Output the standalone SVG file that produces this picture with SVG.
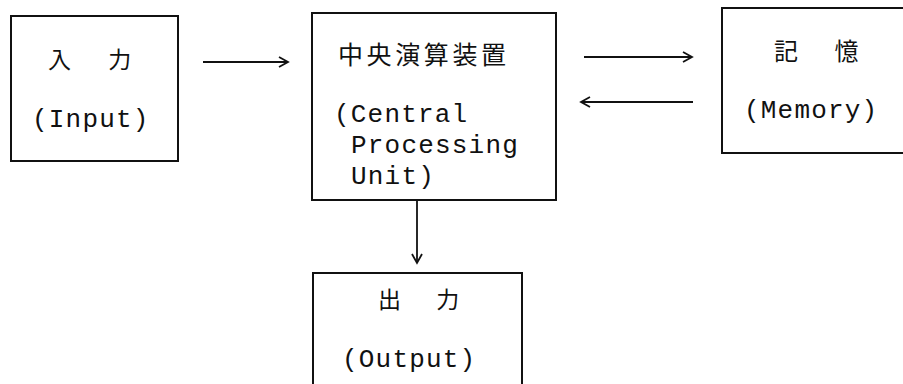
<svg xmlns="http://www.w3.org/2000/svg" width="903" height="384" viewBox="0 0 903 384">
<style>
.box{fill:none;stroke:#111;stroke-width:2}
.jp{font-family:"Noto Sans CJK JP","Noto Sans CJK SC",sans-serif;font-size:23px;fill:#111}
.en{font-family:"Liberation Mono","DejaVu Sans Mono",monospace;font-size:26px;letter-spacing:1.2px;fill:#111}
.conn{stroke:#111;stroke-width:1.8;fill:none}
</style>
<defs>
<marker id="ah" markerWidth="14" markerHeight="14" refX="11" refY="6" orient="auto" markerUnits="userSpaceOnUse">
<path d="M2,1 L11,6 L2,11" fill="none" stroke="#111" stroke-width="1.8"/>
</marker>
</defs>
<rect width="903" height="384" fill="#fff"/>
<g id="input">
<rect class="box" x="11" y="16" width="167" height="145"/>
<text class="jp" x="48" y="68" style="word-spacing:32px">入 力</text>
<text class="en" x="32" y="127">(Input)</text>
</g>
<g id="cpu">
<rect class="box" x="312" y="13" width="244" height="187"/>
<text class="jp" x="338" y="64" style="font-size:25px;letter-spacing:3.6px">中央演算装置</text>
<text class="en" x="334" y="122">(Central</text>
<text class="en" x="351" y="153">Processing</text>
<text class="en" x="351" y="184">Unit)</text>
</g>
<g id="memory">
<path class="box" d="M905,8 H722 V153 H905"/>
<text class="jp" x="774" y="60" style="font-size:24px;word-spacing:31px">記 憶</text>
<text class="en" x="744" y="118">(Memory)</text>
</g>
<g id="output">
<path class="box" d="M313,386 V273 H522 V386"/>
<text class="jp" x="378" y="308" style="word-spacing:30px">出 力</text>
<text class="en" x="342" y="367">(Output)</text>
</g>
<g id="connectors">
<line class="conn" x1="203" y1="62" x2="288" y2="62" marker-end="url(#ah)"/>
<line class="conn" x1="584" y1="57" x2="692" y2="57" marker-end="url(#ah)"/>
<line class="conn" x1="693" y1="102" x2="581" y2="102" marker-end="url(#ah)"/>
<line class="conn" x1="417" y1="201" x2="417" y2="263" marker-end="url(#ah)"/>
</g>
</svg>
